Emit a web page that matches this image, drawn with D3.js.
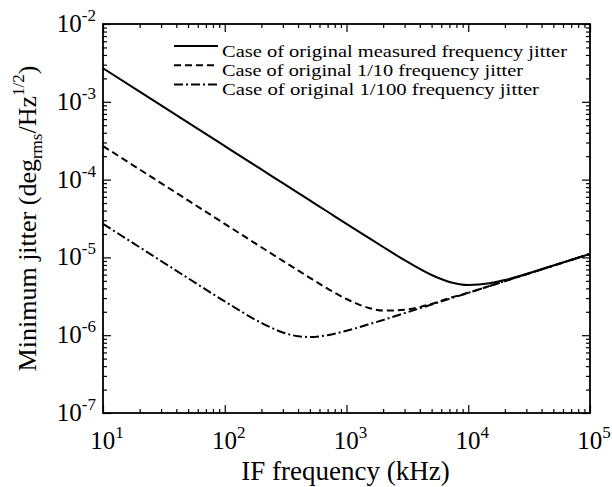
<!DOCTYPE html>
<html>
<head>
<meta charset="utf-8">
<script src="https://cdn.jsdelivr.net/npm/d3@7"></script>
<style>
  body { margin: 0; background: #fff; }
</style>
</head>
<body>
<svg id="chart" width="612" height="487" font-family="'Liberation Serif', 'DejaVu Serif', serif"></svg>
<script>
// frequencies (kHz)
const freq = [10, 20, 50, 100, 200, 300, 400, 500, 700, 1000, 1500, 2000, 3000, 5000, 7000, 10000, 15000, 20000, 50000, 100000];
// minimum jitter, deg_rms/Hz^1/2
const measured = [2.7e-3, 1.35e-3, 5.4e-4, 2.7e-4, 1.35e-4, 9.0e-5, 6.75e-5, 5.4e-5, 3.86e-5, 2.7e-5, 1.81e-5, 1.36e-5, 9.2e-6, 5.94e-6, 4.84e-6, 4.42e-6, 4.65e-6, 5.13e-6, 7.85e-6, 1.11e-5];
const tenth    = [2.7e-4, 1.35e-4, 5.4e-5, 2.7e-5, 1.35e-5, 9.03e-6, 6.8e-6, 5.46e-6, 3.96e-6, 2.92e-6, 2.26e-6, 2.07e-6, 2.12e-6, 2.53e-6, 3.0e-6, 3.51e-6, 4.29e-6, 4.96e-6, 7.83e-6, 1.107e-5];
const hundredth = [2.7e-5, 1.35e-5, 5.4e-6, 2.72e-6, 1.44e-6, 1.085e-6, 9.7e-7, 9.5e-7, 1.0e-6, 1.14e-6, 1.37e-6, 1.57e-6, 1.92e-6, 2.48e-6, 2.93e-6, 3.5e-6, 4.29e-6, 4.95e-6, 7.83e-6, 1.107e-5];

const seriesNames = [
  "Case of original measured frequency jitter",
  "Case of original 1/10 frequency jitter",
  "Case of original 1/100 frequency jitter"
];
const xTickExp = [1, 2, 3, 4, 5];
const yTickExp = [-2, -3, -4, -5, -6, -7];

const series = [measured, tenth, hundredth];
const dashes = [null, "7,4", "9,3,2,3"];
const legendWidths = [345, 301, 317];

const margin = {left: 103, right: 22, top: 24, bottom: 74};
const W = 612, H = 487;
const svg = d3.select("#chart");

const x = d3.scaleLog().domain([10, 1e5]).range([margin.left, W - margin.right]);
const y = d3.scaleLog().domain([1e-7, 1e-2]).range([H - margin.bottom, margin.top]);

const xMajor = xTickExp.map(e => Math.pow(10, e));
const yMajor = yTickExp.map(e => Math.pow(10, e));
const xMinor = x.ticks().filter(v => !xMajor.some(m => Math.abs(v / m - 1) < 1e-9));
const yMinor = y.ticks().filter(v => !yMajor.some(m => Math.abs(v / m - 1) < 1e-9));

const plotH = y.range()[0] - y.range()[1];
const plotW = x.range()[1] - x.range()[0];

function tickGroup(axisFn, scale, vals, size, transform) {
  svg.append("g")
    .attr("transform", transform)
    .call(axisFn(scale).tickValues(vals).tickSize(size).tickFormat(""))
    .call(g => g.select(".domain").remove())
    .call(g => g.selectAll("line").attr("stroke", "#000").attr("stroke-width", 1.2));
}

// ticks on all four sides, pointing in
[[xMajor, 8], [xMinor, 4]].forEach(([v, s]) => {
  tickGroup(d3.axisBottom, x, v, -s, `translate(0,${y.range()[0]})`);
  tickGroup(d3.axisTop, x, v, -s, `translate(0,${y.range()[1]})`);
});
[[yMajor, 8], [yMinor, 4]].forEach(([v, s]) => {
  tickGroup(d3.axisLeft, y, v, -s, `translate(${x.range()[0]},0)`);
  tickGroup(d3.axisRight, y, v, -s, `translate(${x.range()[1]},0)`);
});

// frame
svg.append("rect")
  .attr("x", margin.left).attr("y", margin.top)
  .attr("width", plotW).attr("height", plotH)
  .attr("fill", "none").attr("stroke", "#000").attr("stroke-width", 1.8);

// tick labels
xTickExp.forEach(e => {
  const t = svg.append("text")
    .attr("x", x(Math.pow(10, e)) + 4).attr("y", H - margin.bottom + 36)
    .attr("text-anchor", "middle").attr("font-size", 25);
  t.append("tspan").text("10");
  t.append("tspan").attr("font-size", 17).attr("dy", -11).text(e);
});
yTickExp.forEach(e => {
  const t = svg.append("text")
    .attr("x", margin.left - 7).attr("y", y(Math.pow(10, e)) + 8)
    .attr("text-anchor", "end").attr("font-size", 25);
  t.append("tspan").text("10");
  t.append("tspan").attr("font-size", 17).attr("dy", -11).text(e);
});

// axis titles
svg.append("text")
  .attr("x", x(Math.sqrt(10 * 1e5)) - 1).attr("y", H - 7)
  .attr("text-anchor", "middle").attr("font-size", 27)
  .text("IF frequency (kHz)");

const yt = svg.append("text")
  .attr("transform", `translate(36,${margin.top + plotH / 2}) rotate(-90)`)
  .attr("text-anchor", "middle").attr("font-size", 26);
yt.append("tspan").text("Minimum jitter (deg");
yt.append("tspan").attr("font-size", 17).attr("dy", 6).text("rms");
yt.append("tspan").attr("dy", -6).text("/Hz");
yt.append("tspan").attr("font-size", 17).attr("dy", -12).text("1/2");
yt.append("tspan").attr("dy", 12).text(")");

// curves
const line = d3.line()
  .x((d, i) => x(freq[i]))
  .y(d => y(d))
  .curve(d3.curveMonotoneX);

series.forEach((s, i) => {
  svg.append("path")
    .datum(s)
    .attr("d", line)
    .attr("fill", "none")
    .attr("stroke", "#000")
    .attr("stroke-width", 2)
    .attr("stroke-dasharray", dashes[i]);
});

// legend
const legend = svg.append("g");
seriesNames.forEach((name, i) => {
  const base = 56.5 + i * 19.3;
  legend.append("line")
    .attr("x1", 174).attr("x2", 218).attr("y1", base - 10.5).attr("y2", base - 10.5)
    .attr("stroke", "#000").attr("stroke-width", 2)
    .attr("stroke-dasharray", dashes[i]);
  legend.append("text")
    .attr("x", 222).attr("y", base)
    .attr("font-size", 17)
    .attr("textLength", legendWidths[i])
    .attr("lengthAdjust", "spacingAndGlyphs")
    .text(name);
});
</script>
</body>
</html>
